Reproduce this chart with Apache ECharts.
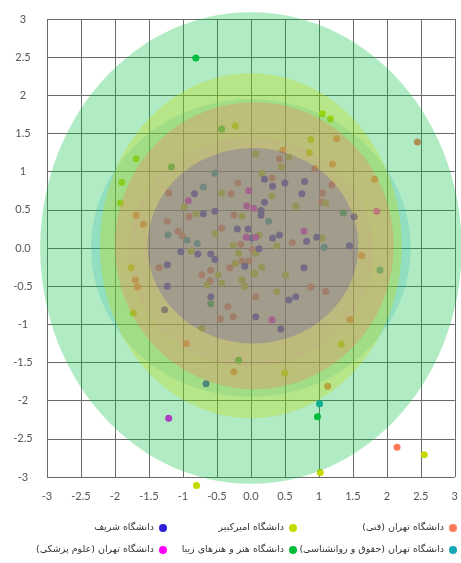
<!DOCTYPE html>
<html>
<head>
<meta charset="utf-8">
<script src="https://cdn.jsdelivr.net/npm/echarts@6/dist/echarts.min.js"></script>
<style>
html,body{margin:0;padding:0;background:#fff;}
#chart{width:461px;height:563px;}
</style>
</head>
<body>
<div id="chart"></div>
<script>
// ---- group names (legend order) ----
const nameTehranFanni = 'دانشگاه تهران (فنی)';
const nameAmirkabir = 'دانشگاه امیرکبیر';
const nameSharif = 'دانشگاه شریف';
const nameTehranHoghogh = 'دانشگاه تهران (حقوق و روانشناسی)';
const nameHonar = 'دانشگاه هنر و هنرهای زیبا';
const nameOlumPezeshki = 'دانشگاه تهران (علوم پزشکی)';

// ---- tick values ----
const axisMin = -3;
const axisMax = 3;
const axisStep = 0.5;

// ---- points [x, y] ----
const ptsTehranFanni = [[-1.21,0.72],[-1.69,0.43],[-1.58,0.31],[-1.23,0.35],[-0.91,0.41],[-0.43,0.26],[-1.07,0.22],[-1.01,0.16],[-0.19,0.85],[-0.29,0.71],[-0.25,0.43],[-0.15,0.05],[0.02,-0.02],[-0.13,-0.17],[-0.03,-0.17],[-1.35,-0.26],[-1.70,-0.42],[-1.67,-0.51],[-0.72,-0.35],[-0.59,-0.29],[-0.31,-0.26],[-0.60,-0.43],[-0.34,-0.77],[-0.45,-0.93],[-0.26,-0.90],[-0.95,-1.25],[0.07,-0.64],[0.88,-0.51],[1.10,-0.57],[1.46,-0.94],[-0.25,-1.62],[1.13,-1.81],[2.15,-2.61],[1.26,1.43],[2.45,1.39],[0.47,1.28],[0.42,1.17],[1.20,1.10],[0.94,1.04],[0.31,0.92],[1.82,0.90],[1.19,0.83],[1.05,0.72],[1.04,0.60],[0.61,0.07],[1.63,-0.10]];
const ptsAmirkabir = [[-1.69,1.17],[-1.90,0.86],[-1.92,0.59],[-0.43,0.72],[-0.98,0.54],[-0.81,0.45],[-0.53,0.19],[-0.88,-0.04],[-0.13,0.42],[-0.26,0.04],[-0.18,-0.07],[-0.23,-0.20],[0.07,-0.07],[0.04,-0.33],[-1.76,-0.26],[-0.48,-0.35],[-0.43,-0.46],[-0.13,-0.42],[-0.09,-0.50],[-1.73,-0.85],[-0.64,-0.48],[-0.72,-1.05],[-0.80,-3.11],[0.16,-0.25],[0.06,-0.34],[0.51,-0.35],[0.38,-0.57],[1.33,-1.26],[0.50,-1.64],[1.02,-2.94],[2.55,-2.71],[1.05,1.76],[1.17,1.69],[-0.23,1.60],[0.88,1.42],[0.86,1.25],[0.56,1.19],[0.07,1.23],[0.45,1.06],[0.16,0.98],[0.31,0.68],[1.10,0.59],[0.66,0.55],[0.12,0.17],[1.05,0.13],[0.38,0.03]];
const ptsSharif = [[-0.83,0.71],[-0.70,0.45],[-0.53,0.48],[-1.03,-0.05],[-0.78,-0.08],[-0.59,-0.08],[-0.20,0.25],[-0.04,0.25],[-0.53,-0.15],[-0.09,-0.24],[-1.23,-0.22],[-1.23,-0.50],[-1.27,-0.81],[-0.59,-0.64],[-0.66,-1.78],[0.78,-0.26],[0.56,-0.68],[0.66,-0.64],[0.07,-0.90],[0.44,-1.06],[0.20,0.90],[0.32,0.81],[0.50,0.85],[0.79,0.87],[0.75,0.71],[0.20,0.60],[0.15,0.49],[0.15,0.43],[1.52,0.41],[0.01,0.13],[0.32,0.13],[0.42,0.17],[0.82,0.09],[0.97,0.14],[1.45,0.03],[0.12,-0.01]];
const ptsTehranHoghogh = [[-0.53,0.98],[-0.70,0.80],[-1.22,0.17],[-0.94,0.10],[-0.79,0.06],[0.26,0.35],[1.08,0.01],[1.90,-0.29],[1.01,-2.04]];
const ptsHonar = [[-0.81,2.49],[-0.43,1.56],[-1.17,1.06],[-0.59,-0.73],[-0.18,-1.47],[0.98,-2.21],[1.36,0.46]];
const ptsOlumPezeshki = [[-0.92,0.62],[-0.03,0.75],[-0.06,0.55],[0.04,0.52],[0.07,0.14],[-0.07,0.14],[0.31,-0.94],[1.85,0.48],[0.78,0.22],[-1.21,-2.23]];

// ---- spread ellipses [centerX, centerY, radiusX, radiusY] ----
const spreadHonar = [0.0, 0.0, 3.1, 3.09];
const spreadTehranHoghogh = [0.0, 0.0, 2.35, 1.95];
const spreadAmirkabir = [0.0, 0.03, 2.22, 2.26];
const spreadTehranFanni = [0.05, 0.03, 2.05, 1.88];
const spreadOlumPezeshki = [0.0, -0.05, 1.8, 1.5];
const spreadSharif = [0.03, 0.03, 1.55, 1.28];

// ---- colours ----
const colors = {
  fanni: '#ff7a5a',
  amirkabir: '#c5d900',
  sharif: '#2b1fdc',
  hoghogh: '#17a8b8',
  honar: '#00be3c',
  pezeshki: '#ff00ff'
};

function fmt(v){ return v === 0 ? '0.0' : String(v); }

function ellipseRenderer(alpha){
  return function(params, api){
    const cx = api.value(0), cy = api.value(1), rx = api.value(2), ry = api.value(3);
    const pts = [];
    const n = 120;
    for (let i = 0; i < n; i++) {
      const t = i / n * Math.PI * 2;
      pts.push(api.coord([cx + rx * Math.cos(t), cy + ry * Math.sin(t)]));
    }
    return {
      type: 'polygon',
      shape: { points: pts },
      style: { fill: api.visual('color'), opacity: alpha }
    };
  };
}

const groups = [
  { name: nameTehranFanni, pts: ptsTehranFanni, color: colors.fanni },
  { name: nameAmirkabir, pts: ptsAmirkabir, color: colors.amirkabir },
  { name: nameSharif, pts: ptsSharif, color: colors.sharif },
  { name: nameTehranHoghogh, pts: ptsTehranHoghogh, color: colors.hoghogh },
  { name: nameHonar, pts: ptsHonar, color: colors.honar },
  { name: nameOlumPezeshki, pts: ptsOlumPezeshki, color: colors.pezeshki }
];

// ellipse drawing order (bottom to top)
const ellipses = [
  { name: nameHonar, spread: spreadHonar, color: colors.honar, alpha: 0.31 },
  { name: nameTehranHoghogh, spread: spreadTehranHoghogh, color: colors.hoghogh, alpha: 0.2 },
  { name: nameAmirkabir, spread: spreadAmirkabir, color: colors.amirkabir, alpha: 0.3 },
  { name: nameTehranFanni, spread: spreadTehranFanni, color: colors.fanni, alpha: 0.3 },
  { name: nameOlumPezeshki, spread: spreadOlumPezeshki, color: colors.pezeshki, alpha: 0.03 },
  { name: nameSharif, spread: spreadSharif, color: colors.sharif, alpha: 0.19 }
];

const series = [];
groups.forEach(g => {
  series.push({
    type: 'scatter',
    name: g.name,
    data: g.pts,
    symbolSize: 7,
    clip: false,
    itemStyle: { color: g.color, opacity: 1 },
    z: 2
  });
});
ellipses.forEach(e => {
  series.push({
    type: 'custom',
    name: e.name,
    data: [e.spread],
    encode: { x: 0, y: 1 },
    renderItem: ellipseRenderer(e.alpha),
    itemStyle: { color: e.color },
    clip: false,
    silent: true,
    z: 3
  });
});

const legendFont = { fontFamily: 'DejaVu Sans, Noto Sans, sans-serif', fontSize: 9.5, color: '#333' };
const legendPos = [
  { name: nameTehranFanni, right: 4, top: 523 },
  { name: nameAmirkabir, right: 164, top: 523 },
  { name: nameSharif, right: 294, top: 523 },
  { name: nameTehranHoghogh, right: 4, top: 545 },
  { name: nameHonar, right: 164, top: 545 },
  { name: nameOlumPezeshki, right: 294, top: 545 }
];
const legends = legendPos.map(l => ({
  data: [l.name],
  right: l.right,
  top: l.top,
  padding: 0,
  align: 'right',
  icon: 'circle',
  itemWidth: 8,
  itemHeight: 8,
  textStyle: legendFont,
  formatter: n => '\u200F' + n + '\u200F'
}));

const axisCommon = {
  type: 'value',
  min: axisMin,
  max: axisMax,
  interval: axisStep,
  axisLine: { show: false },
  axisTick: { show: false },
  splitLine: { show: true, lineStyle: { color: '#6a6a6a', width: 1 } }
};

const chart = echarts.init(document.getElementById('chart'), null, { renderer: 'canvas' });
chart.setOption({
  animation: false,
  backgroundColor: '#fff',
  grid: { left: 47, right: 4, top: 19, bottom: 86, containLabel: false },
  xAxis: Object.assign({}, axisCommon, {
    axisLabel: { formatter: fmt, color: '#555', fontSize: 11, fontFamily: 'Lato, sans-serif', margin: 14 }
  }),
  yAxis: Object.assign({}, axisCommon, {
    axisLabel: { formatter: fmt, color: '#555', fontSize: 11, fontFamily: 'Lato, sans-serif', margin: 24, align: 'center' }
  }),
  legend: legends,
  series: series
});
</script>
</body>
</html>
